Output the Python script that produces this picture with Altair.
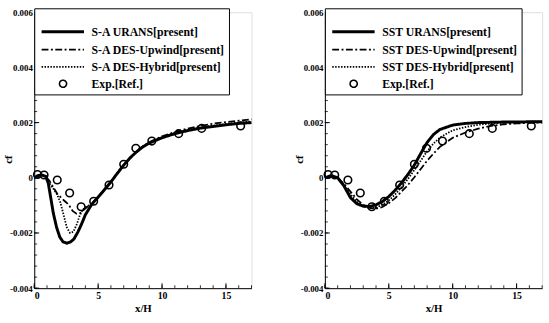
import altair as alt
import pandas as pd

# ---------------- data ----------------
exp_x = [0.25, 0.77, 1.8, 2.77, 3.67, 4.65, 5.85, 7.0, 7.95, 9.2, 11.3, 13.1, 16.15]
exp_cf = [0.00012, 0.0001, -0.00008, -0.00055, -0.00105, -0.00085, -0.00026,
          0.00049, 0.00107, 0.00133, 0.0016, 0.00179, 0.00188]

# Left panel (S-A)
sa_urans_x = [0, 0.3, 0.6, 0.9, 1.1, 1.3, 1.5, 1.75, 2.0, 2.25, 2.55, 2.85, 3.1, 3.4, 3.7,
              4.0, 4.5, 5, 5.5, 6, 6.5, 7, 7.5, 8, 8.5, 9, 10, 11, 12, 13, 14, 15, 16, 17]
sa_urans_cf = [0, 0.00008, 0.0001, 0.00005, -0.0002, -0.00075, -0.0013, -0.0018, -0.00215,
               -0.00232, -0.00237, -0.00232, -0.00222, -0.00198, -0.00168, -0.00134,
               -0.00096, -0.0007, -0.00043, -0.00015, 0.00016, 0.00046, 0.00072, 0.00094,
               0.00112, 0.00126, 0.00145, 0.0016, 0.00171, 0.0018, 0.00186, 0.00192,
               0.00197, 0.002]
sa_upwind_x = [0, 0.3, 0.6, 0.9, 1.2, 1.5, 1.8, 2.1, 2.4, 2.7, 3.0, 3.3, 3.6, 3.9, 4.2,
               4.5, 5, 5.5, 6, 6.5, 7, 7.5, 8, 8.5, 9, 10, 11, 12, 13, 14, 15, 16, 17]
sa_upwind_cf = [0, 0.00008, 0.0001, 0.00005, -0.00012, -0.00035, -0.00058, -0.00072,
                -0.00085, -0.00098, -0.0012, -0.0013, -0.00128, -0.00115, -0.00103,
                -0.00094, -0.00069, -0.00042, -0.00014, 0.00016, 0.00046, 0.00073,
                0.00095, 0.00114, 0.00129, 0.0015, 0.00166, 0.00178, 0.00188, 0.00196,
                0.00202, 0.00207, 0.00212]
sa_hybrid_x = [0, 0.3, 0.6, 0.9, 1.2, 1.5, 1.8, 2.05, 2.3, 2.55, 2.8, 3.05, 3.3, 3.55,
               3.8, 4.1, 4.5, 5, 5.5, 6, 6.5, 7, 7.5, 8, 8.5, 9, 10, 11, 12, 13, 14, 15, 16, 17]
sa_hybrid_cf = [0, 0.00008, 0.0001, 0.00005, -0.0002, -0.0004, -0.00062, -0.0009,
                -0.00135, -0.0018, -0.002, -0.00196, -0.00172, -0.00138, -0.00115,
                -0.00104, -0.00095, -0.00069, -0.00042, -0.00014, 0.00017, 0.00047,
                0.00073, 0.00095, 0.00113, 0.00127, 0.00147, 0.00162, 0.00173, 0.00182,
                0.00189, 0.00195, 0.002, 0.00204]

# Right panel (SST)
sst_x = [0, 0.5, 1, 1.5, 2, 2.5, 3, 3.5, 4, 4.5, 5, 5.5, 6, 6.5, 7, 7.5, 8, 8.5, 9,
         10, 11, 12, 13, 14, 15, 16, 17]
sst_urans_cf = [0, 0.00008, 0, -0.0003, -0.00072, -0.00094, -0.00103, -0.00104, -0.00098,
                -0.00086, -0.00068, -0.00045, -0.00018, 0.00012, 0.00046, 0.00088,
                0.00128, 0.00157, 0.00175, 0.00191, 0.00197, 0.002, 0.00201, 0.00202,
                0.00202, 0.00203, 0.00203]
sst_upwind_cf = [0, 0.00006, 0, -0.00022, -0.0005, -0.00078, -0.00098, -0.00109, -0.00112,
                 -0.00106, -0.00092, -0.00074, -0.0005, -0.00026, 0.00002, 0.00032,
                 0.00062, 0.00088, 0.00112, 0.00145, 0.00164, 0.00178, 0.00188, 0.00194,
                 0.00197, 0.00199, 0.002]
sst_hybrid_cf = [0, 0.00006, 0, -0.00025, -0.0006, -0.00086, -0.00102, -0.0011, -0.00108,
                 -0.00098, -0.00082, -0.0006, -0.00034, -0.00004, 0.00028, 0.00062,
                 0.00096, 0.00124, 0.00146, 0.00172, 0.00184, 0.00192, 0.00197, 0.002,
                 0.00202, 0.00203, 0.00204]

sa_names = ["S-A URANS[present]", "S-A DES-Upwind[present]", "S-A DES-Hybrid[present]", "Exp.[Ref.]"]
sst_names = ["SST URANS[present]", "SST DES-Upwind[present]", "SST DES-Hybrid[present]", "Exp.[Ref.]"]

y_major = [-0.004, -0.002, 0, 0.002, 0.004, 0.006]
x_major = [0, 5, 10, 15]
y_minor = [round(-0.004 + 0.0004 * i, 4) for i in range(26)]
x_minor = list(range(0, 18))

W, H = 222, 282
FONT = "Liberation Sans Narrow"
# legend glyphs (unit = half the legend symbol size)
LINE_SHAPE = "M-0.75,0H4.25"
CIRCLE_SHAPE = "M2.2,0A0.42,0.42 0 1,1 1.36,0A0.42,0.42 0 1,1 2.2,0Z"


def frame(xs, ys, name):
    return pd.DataFrame({"x": xs, "cf": ys, "series": name})


def panel(names, curves):
    lines_df = pd.concat([frame(xs, ys, n) for (xs, ys), n in zip(curves, names[:3])])
    exp_df = frame(exp_x, exp_cf, names[3])

    xs = alt.Scale(domain=[0, 17], nice=False, zero=False)
    ys = alt.Scale(domain=[-0.004, 0.006], nice=False, zero=False)

    xenc = alt.X("x:Q", scale=xs, axis=alt.Axis(
        values=x_major, ticks=False, grid=False, title="x/H", domainColor="black",
        labelFont=FONT, labelFontSize=10, labelFontWeight="bold", labelColor="black",
        labelPadding=3, titleFont=FONT, titleFontSize=11, titleFontWeight="bold",
        titleColor="black", titlePadding=2))
    yenc = alt.Y("cf:Q", scale=ys, axis=alt.Axis(
        values=y_major, ticks=False, grid=False, title="cf", domainColor="black",
        labelExpr="datum.value == 0 ? '0' : replace(format(datum.value, '.3f'), '\u2212', '-')",
        labelFont=FONT, labelFontSize=9, labelFontWeight="bold", labelColor="black",
        labelPadding=2, titleFont=FONT, titleFontSize=11, titleFontWeight="bold",
        titleColor="black", titleAngle=270, titleX=-26, titleY=150,
        titleAlign="center", titleBaseline="middle"))

    legend = alt.Legend(
        title=" ", titleFontSize=8, titlePadding=2,
        orient="none", legendX=0, legendY=-4, direction="vertical",
        fillColor="white", strokeColor="black", padding=3.5, rowPadding=1.7,
        symbolSize=300, labelOffset=34,
        labelFont=FONT, labelFontSize=12, labelFontWeight="bold", labelColor="black",
        symbolStrokeColor="black", symbolFillColor="transparent", symbolOpacity=1,
        labelLimit=300)
    sname = alt.Scale(type="ordinal", domain=names,
                      range=[LINE_SHAPE, LINE_SHAPE, LINE_SHAPE, CIRCLE_SHAPE])
    sdash = alt.Scale(type="ordinal", domain=names,
                      range=[[1, 0], [7, 2.5, 2, 2.5], [1.5, 1.5], [1, 0]])
    swidth = alt.Scale(type="ordinal", domain=names, range=[3, 1.8, 1.8, 1.6])

    lines = alt.Chart(lines_df).mark_line(color="black", strokeCap="butt").encode(
        x=xenc, y=yenc,
        strokeDash=alt.StrokeDash("series:N", scale=sdash, legend=legend),
        strokeWidth=alt.StrokeWidth("series:N", scale=swidth, legend=legend),
        detail="series:N",
    )
    # invisible layer that only feeds the legend glyph shapes
    legend_src = alt.Chart(exp_df).mark_point(opacity=0).encode(
        x=xenc, y=yenc,
        shape=alt.Shape("series:N", scale=sname, legend=legend),
    )
    pts = alt.Chart(exp_df).mark_point(color="black", filled=False, strokeWidth=1.6,
                                       size=60, shape="circle", opacity=1).encode(
        x=xenc, y=yenc,
    )

    ymaj = alt.Chart(pd.DataFrame({"v": y_major})).mark_rule(color="black", strokeWidth=1).encode(
        y=alt.Y("v:Q", scale=ys), x=alt.value(0), x2=alt.value(5))
    ymin = alt.Chart(pd.DataFrame({"v": y_minor})).mark_rule(color="black", strokeWidth=0.8).encode(
        y=alt.Y("v:Q", scale=ys), x=alt.value(0), x2=alt.value(3))
    xmaj = alt.Chart(pd.DataFrame({"v": x_major})).mark_rule(color="black", strokeWidth=1).encode(
        x=alt.X("v:Q", scale=xs), y=alt.value(H), y2=alt.value(H - 5))
    xmin = alt.Chart(pd.DataFrame({"v": x_minor})).mark_rule(color="black", strokeWidth=0.8).encode(
        x=alt.X("v:Q", scale=xs), y=alt.value(H), y2=alt.value(H - 3))

    return alt.layer(lines, legend_src, pts, ymaj, ymin, xmaj, xmin).properties(width=W, height=H)


left = panel(sa_names, [(sa_urans_x, sa_urans_cf), (sa_upwind_x, sa_upwind_cf), (sa_hybrid_x, sa_hybrid_cf)])
right = panel(sst_names, [(sst_x, sst_urans_cf), (sst_x, sst_upwind_cf), (sst_x, sst_hybrid_cf)])

chart = alt.hconcat(left, right, spacing=75, bounds="flush").resolve_scale(
    strokeDash="independent", strokeWidth="independent", shape="independent"
).properties(
    padding={"left": 2, "top": 4, "right": 0, "bottom": 0},
).configure_view(stroke=None).configure(background="white")

chart.save("out.html", embed_options={"renderer": "svg", "actions": False})
